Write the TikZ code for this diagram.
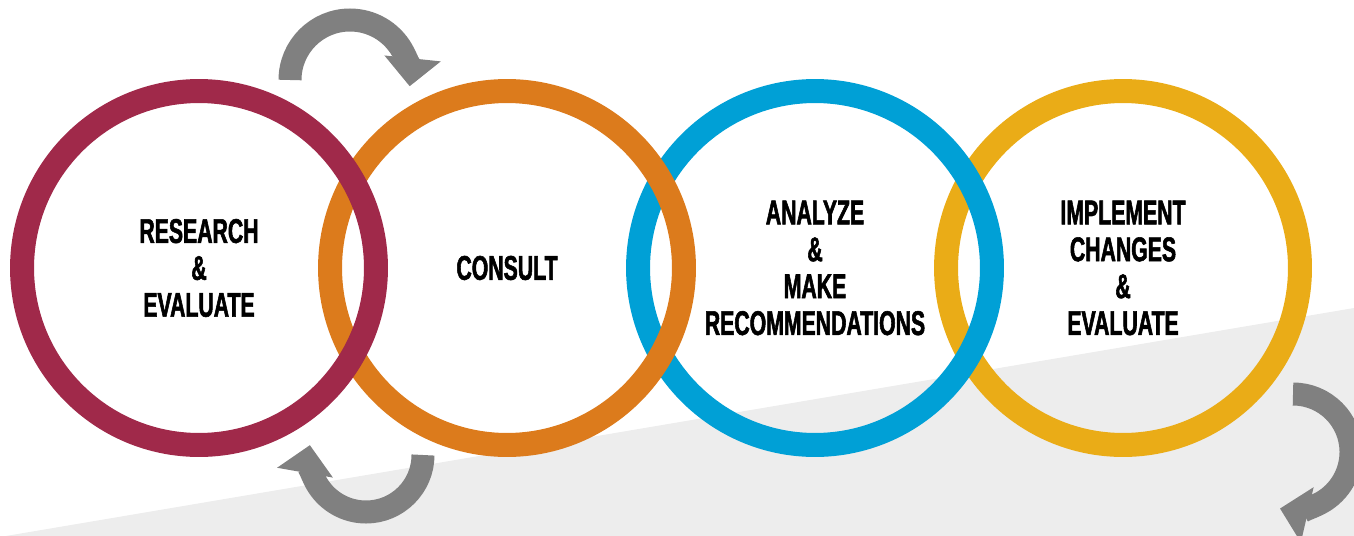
\documentclass[tikz,border=0pt]{standalone}
\usepackage{fontspec}
\newfontfamily\ringfont[FakeStretch=0.62,FakeBold=1.6]{Liberation Sans}
\usetikzlibrary{arrows.meta}

\definecolor{ringred}{HTML}{A0294A}
\definecolor{ringorange}{HTML}{DC7B1C}
\definecolor{ringblue}{HTML}{00A0D6}
\definecolor{ringyellow}{HTML}{EAAC17}
\definecolor{arrowgray}{HTML}{808080}
\definecolor{floorgray}{HTML}{EDEDED}

\tikzset{
	ring/.style={circle, draw=#1, line width=0.48cm, minimum size=7.08cm, inner sep=0pt, align=center,
		font=\ringfont\bfseries\fontsize{19.5pt}{21pt}\selectfont},
	cyclearrow/.style={draw=arrowgray, line width=0.46cm, -{Triangle[length=0.56cm, width=1.1cm]}}
}

\begin{document}
\begin{tikzpicture}[x=0.02cm, y=0.02cm]
						\useasboundingbox (0,0) rectangle (1354,535);
						\clip (0,0) rectangle (1354,535);
						\fill[floorgray] (0,-2)--(1354,227)--(1354,-2)--cycle;
						\node[ring=ringyellow] (implement) at (1123,267) {IMPLEMENT\\CHANGES\\\&\\EVALUATE};
						\node[ring=ringblue] (analyze) at (815,267) {ANALYZE\\\&\\MAKE\\RECOMMENDATIONS};
						\node[ring=ringorange] (consult) at (507,267) {CONSULT};
						\node[ring=ringred] (research) at (199,267) {RESEARCH\\\&\\EVALUATE};
						\coordinate (topstart) at (290,455);
						\coordinate (bottomstart) at (423,80);
						\coordinate (rightstart) at (1293,141);
						\draw[cyclearrow] (topstart) arc (180:-6:60);
						\draw[cyclearrow] (bottomstart) arc (0:-190:57);
						\draw[cyclearrow] (rightstart) arc (90:-103:58);
					\end{tikzpicture}
\end{document}
